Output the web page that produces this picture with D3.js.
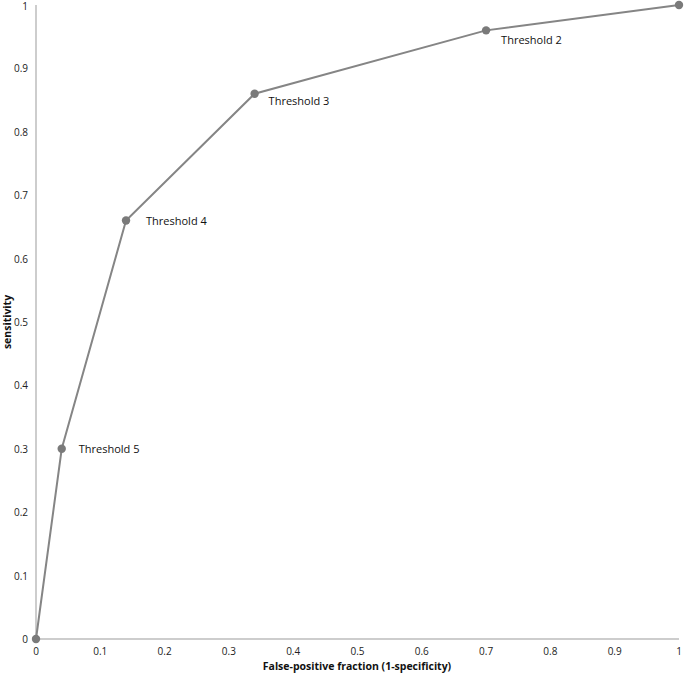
<!DOCTYPE html>
<html><head><meta charset="utf-8">
<script src="https://cdn.jsdelivr.net/npm/d3@7"></script>
<style>body{margin:0;background:#fff;}svg{display:block;font-family:"Open Sans","Liberation Sans",sans-serif;}</style>
</head><body><svg id="c" width="685" height="673"></svg>
<script>
const fpf = [0, 0.04, 0.14, 0.34, 0.70, 1];
const sens = [0, 0.30, 0.66, 0.86, 0.96, 1];
const pointLabels = ["", "Threshold 5", "Threshold 4", "Threshold 3", "Threshold 2", ""];
const xTicks = [0,0.1,0.2,0.3,0.4,0.5,0.6,0.7,0.8,0.9,1];
const yTicks = [0,0.1,0.2,0.3,0.4,0.5,0.6,0.7,0.8,0.9,1];
const labelOffsets = [[0,0],[17,4],[20,4],[14,11],[15,14],[0,0]];

const svg = d3.select("#c");
const x = d3.scaleLinear().domain([0,1]).range([36,679]);
const y = d3.scaleLinear().domain([0,1]).range([639,5]);

svg.append("line").attr("x1",x(0)).attr("x2",x(1)).attr("y1",y(0)).attr("y2",y(0)).attr("stroke","#bdbdbd").attr("stroke-width",1.5);
svg.append("line").attr("x1",x(0)).attr("x2",x(0)).attr("y1",y(0)).attr("y2",y(1)).attr("stroke","#bdbdbd").attr("stroke-width",1.5);

const fmt = d => String(d);
svg.append("g").selectAll("text").data(xTicks).join("text")
  .attr("x",d=>x(d)).attr("y",655).attr("text-anchor","middle")
  .attr("font-size",10).attr("fill","#222").text(fmt);
svg.append("g").selectAll("text").data(yTicks).join("text")
  .attr("x",28).attr("y",d=>Math.max(y(d)+4,10)).attr("text-anchor","end")
  .attr("font-size",10).attr("fill","#222").text(fmt);

svg.append("text").attr("x",357).attr("y",670).attr("text-anchor","middle")
  .attr("font-size",10.5).attr("font-weight","bold").attr("fill","#111")
  .text("False-positive fraction (1-specificity)");
svg.append("text").attr("transform","translate(11,322) rotate(-90)").attr("text-anchor","middle")
  .attr("font-size",10.5).attr("font-weight","bold").attr("fill","#111")
  .text("sensitivity");

const pts = fpf.map((v,i)=>[v,sens[i]]);
svg.append("path").datum(pts)
  .attr("d", d3.line().x(d=>x(d[0])).y(d=>y(d[1])))
  .attr("fill","none").attr("stroke","#858585").attr("stroke-width",2);
svg.append("g").selectAll("circle").data(pts).join("circle")
  .attr("cx",d=>x(d[0])).attr("cy",d=>y(d[1])).attr("r",4.2).attr("fill","#7a7a7a");
svg.append("g").selectAll("text").data(pts).join("text")
  .attr("x",(d,i)=>x(d[0])+labelOffsets[i][0]).attr("y",(d,i)=>y(d[1])+labelOffsets[i][1])
  .attr("font-size",11).attr("fill","#111").text((d,i)=>pointLabels[i]);
</script></body></html>
